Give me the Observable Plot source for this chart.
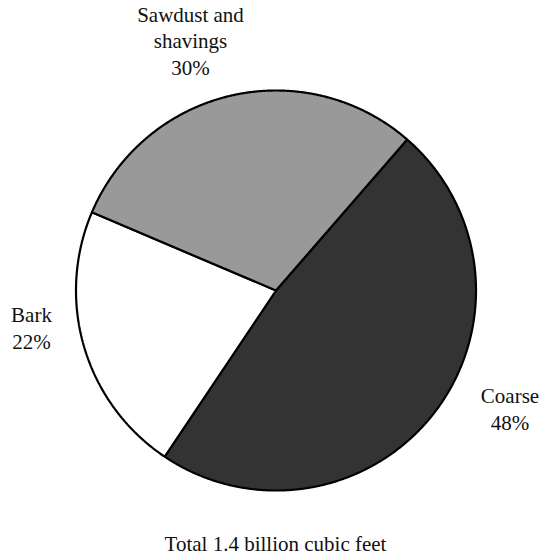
<!DOCTYPE html>
<html>
<head>
<meta charset="utf-8">
<script src="https://cdn.jsdelivr.net/npm/d3@7"></script>
<script src="https://cdn.jsdelivr.net/npm/@observablehq/plot@0.6"></script>
<style>
  html, body { margin: 0; padding: 0; background: #fff; }
  #chart svg { display: block; }
  #chart svg text { font-family: "Liberation Serif", "Times New Roman", serif; }
</style>
</head>
<body>
<div id="chart"></div>
<script>
// ---- data ----
const categories = ["Coarse", "Bark", "Sawdust and\nshavings"];
const shares = [48, 22, 30];
const caption = "Total 1.4 billion cubic feet";

// ---- layout / style (not data) ----
const W = 542, H = 560;
const FONT = "Liberation Serif";
const layout = {
  cx: 275.5, cy: 290, r: 200,
  startDeg: 41,
  colors: ["#333333", "#ffffff", "#999999"],
  labels: [ // last-line baseline positions
    {x: 509.5, y: 429},
    {x: 31, y: 348},
    {x: 190, y: 74}
  ],
  caption: {x: 275, y: 550}
};

const pie = d3.pie().sort(null).value(d => d.value).startAngle(layout.startDeg * Math.PI / 180).endAngle(layout.startDeg * Math.PI / 180 + 2 * Math.PI);
const slices = pie(categories.map((c, i) => ({name: c, value: shares[i], i})));

const pts = [];
for (const s of slices) {
  const key = s.data.name;
  pts.push({key, x: layout.cx, y: layout.cy});
  const steps = Math.max(2, Math.ceil((s.endAngle - s.startAngle) / (Math.PI / 720)));
  for (let k = 0; k <= steps; k++) {
    const a = s.startAngle + (s.endAngle - s.startAngle) * k / steps;
    pts.push({key, x: layout.cx + layout.r * Math.sin(a), y: layout.cy - layout.r * Math.cos(a)});
  }
}

const labelData = slices.map((s, i) => ({
  text: s.data.name + "\n" + s.data.value + "%",
  x: layout.labels[i].x, y: layout.labels[i].y
}));

const plot = Plot.plot({
  width: W, height: H,
  margin: 0,
  x: {domain: [0, W], range: [0, W], axis: null},
  y: {domain: [0, H], range: [0, H], axis: null},
  color: {domain: categories, range: layout.colors},
  style: {fontFamily: FONT, background: "#fff"},
  marks: [
    Plot.line(pts, {x: "x", y: "y", z: "key", fill: "key", stroke: "#000", strokeWidth: 2.2, curve: "linear-closed", strokeLinejoin: "miter"}),
    Plot.text(labelData, {x: "x", y: "y", text: "text", fontSize: 21, fontFamily: FONT, lineHeight: 1.26, lineAnchor: "bottom", textAnchor: "middle", fill: "#111"}),
    Plot.text([caption], {x: () => layout.caption.x, y: () => layout.caption.y, text: d => d, fontSize: 21, fontFamily: FONT, lineAnchor: "bottom", textAnchor: "middle", fill: "#111"})
  ]
});
document.getElementById("chart").appendChild(plot);
</script>
</body>
</html>
